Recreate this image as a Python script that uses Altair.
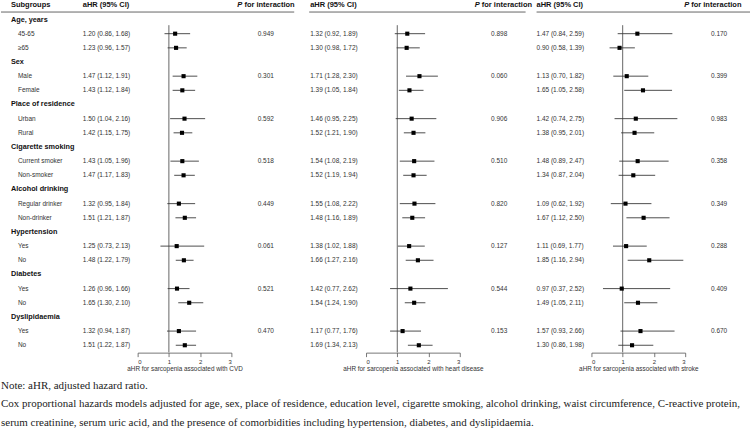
import altair as alt
import pandas as pd

# Subgroup structure
groups = ["Age, years", "Sex", "Place of residence", "Cigarette smoking",
          "Alcohol drinking", "Hypertension", "Diabetes", "Dyslipidaemia"]
subgroups = [["45-65", "≥65"], ["Male", "Female"], ["Urban", "Rural"],
             ["Current smoker", "Non-smoker"], ["Regular drinker", "Non-drinker"],
             ["Yes", "No"], ["Yes", "No"], ["Yes", "No"]]

# CVD
cvd_hr = [1.20, 1.23, 1.47, 1.43, 1.50, 1.42, 1.43, 1.47, 1.32, 1.51, 1.25, 1.48, 1.26, 1.65, 1.32, 1.51]
cvd_lo = [0.86, 0.96, 1.12, 1.12, 1.04, 1.15, 1.05, 1.17, 0.95, 1.21, 0.73, 1.22, 0.96, 1.30, 0.94, 1.22]
cvd_hi = [1.68, 1.57, 1.91, 1.84, 2.16, 1.75, 1.96, 1.83, 1.84, 1.87, 2.13, 1.79, 1.66, 2.10, 1.87, 1.87]
cvd_p = ["0.949", "0.301", "0.592", "0.518", "0.449", "0.061", "0.521", "0.470"]

# Heart disease
heart_hr = [1.32, 1.30, 1.71, 1.39, 1.46, 1.52, 1.54, 1.52, 1.55, 1.48, 1.38, 1.66, 1.42, 1.54, 1.17, 1.69]
heart_lo = [0.92, 0.98, 1.28, 1.05, 0.95, 1.21, 1.08, 1.19, 1.08, 1.16, 1.02, 1.27, 0.77, 1.24, 0.77, 1.34]
heart_hi = [1.89, 1.72, 2.30, 1.84, 2.25, 1.90, 2.19, 1.94, 2.22, 1.89, 1.88, 2.16, 2.62, 1.90, 1.76, 2.13]
heart_p = ["0.898", "0.060", "0.906", "0.510", "0.820", "0.127", "0.544", "0.153"]

# Stroke
stroke_hr = [1.47, 0.90, 1.13, 1.65, 1.42, 1.38, 1.48, 1.34, 1.09, 1.67, 1.11, 1.85, 0.97, 1.49, 1.57, 1.30]
stroke_lo = [0.84, 0.58, 0.70, 1.05, 0.74, 0.95, 0.89, 0.87, 0.62, 1.12, 0.69, 1.16, 0.37, 1.05, 0.93, 0.86]
stroke_hi = [2.59, 1.39, 1.82, 2.58, 2.75, 2.01, 2.47, 2.04, 1.92, 2.50, 1.77, 2.94, 2.52, 2.11, 2.66, 1.98]
stroke_p = ["0.170", "0.399", "0.983", "0.358", "0.349", "0.288", "0.409", "0.670"]

axis_ticks = [0, 1, 2, 3]

note_lines = [
    "Note: aHR, adjusted hazard ratio.",
    "Cox proportional hazards models adjusted for age, sex, place of residence, education level, "
    "cigarette smoking, alcohol drinking, waist circumference, C-reactive protein,",
    "serum creatinine, serum uric acid, and the presence of comorbidities including hypertension, "
    "diabetes, and dyslipidaemia.",
]
note_y = [385, 404, 423]

SANS = "Liberation Sans"
SERIF = "Liberation Serif"
ROW_STEP = 14.2
TOP_ROW = 18.0
N_ROWS = 24
PLOT_H = 352

yscale = alt.Scale(domain=[0, N_ROWS - 1], range=[TOP_ROW, TOP_ROW + (N_ROWS - 1) * ROW_STEP])


def Y(field="row"):
    return alt.Y(f"{field}:Q", scale=yscale, axis=None)


def items_frame(hr, lo, hi, p):
    recs = []
    k = 0
    for g, subs in enumerate(subgroups):
        for j, s in enumerate(subs):
            recs.append({
                "row": 3 * g + 1 + j,
                "hr": hr[k], "lo": lo[k], "hi": hi[k],
                "ci": f"{hr[k]:.2f} ({lo[k]:.2f}, {hi[k]:.2f})",
                "p": p[g] if j == 0 else "",
                "sub": s,
            })
            k += 1
    return pd.DataFrame(recs)


def panel(df, width, ci_x, rng, p_center, p_head_x, line_x, title, with_labels=False):
    xscale = alt.Scale(domain=[0, 3], range=rng)
    xaxis = alt.Axis(values=axis_ticks, title=title, grid=False, format="d",
                     domainColor="#555", tickColor="#555", tickSize=4, domainWidth=0.8, tickWidth=0.8,
                     labelFont=SANS, labelFontSize=6, labelColor="#333", labelPadding=1.5,
                     titleFont=SANS, titleFontSize=6.4, titleFontWeight="normal", titleColor="#333",
                     titlePadding=1.5)
    base = alt.Chart(df)
    layers = []

    hdr = alt.Chart(pd.DataFrame({"row": [-1]}))
    layers.append(hdr.mark_text(text="aHR (95% CI)", align="left", font=SANS, fontSize=7.5,
                                fontWeight="bold", color="#111")
                  .encode(x=alt.value(ci_x), y=Y()))
    layers.append(hdr.mark_text(text="P", align="left", font=SANS, fontSize=7.5,
                                fontWeight="bold", fontStyle="italic", color="#111")
                  .encode(x=alt.value(p_head_x), y=Y()))
    layers.append(hdr.mark_text(text="for interaction", align="left", font=SANS, fontSize=7.5,
                                fontWeight="bold", color="#111")
                  .encode(x=alt.value(p_head_x + 7.1), y=Y()))
    layers.append(hdr.mark_rule(color="#666", strokeWidth=1)
                  .encode(x=alt.value(line_x[0]), x2=alt.value(line_x[1]), y=alt.value(10.5)))

    if with_labels:
        layers.append(hdr.mark_text(text="Subgroups", align="left", font=SANS, fontSize=7.5,
                                    fontWeight="bold", color="#111")
                      .encode(x=alt.value(10), y=Y()))
        gdf = pd.DataFrame({"row": [3 * g for g in range(len(groups))], "name": groups})
        layers.append(alt.Chart(gdf).mark_text(align="left", font=SANS, fontSize=7.3,
                                               fontWeight="bold", color="#111")
                      .encode(x=alt.value(10), y=Y(), text="name:N"))
        layers.append(base.mark_text(align="left", font=SANS, fontSize=6.5, color="#333")
                      .encode(x=alt.value(17), y=Y(), text="sub:N"))
        # footnote lines below the three panels
        for line, ny in zip(note_lines, note_y):
            layers.append(hdr.mark_text(text=line, align="left", font=SERIF, fontSize=11, color="#222")
                          .encode(x=alt.value(0), y=alt.value(ny)))

    layers.append(base.mark_text(align="left", font=SANS, fontSize=6.5, color="#333")
                  .encode(x=alt.value(ci_x), y=Y(), text="ci:N"))
    layers.append(base.mark_text(align="center", font=SANS, fontSize=6.5, color="#333")
                  .encode(x=alt.value(p_center), y=Y(), text="p:N"))

    ref = alt.Chart(pd.DataFrame({"v": [1], "r0": [0.4], "r1": [23.5]}))
    layers.append(ref.mark_rule(color="#555", strokeWidth=0.9)
                  .encode(x=alt.X("v:Q", scale=xscale, axis=xaxis),
                          y=Y("r0"), y2="r1:Q"))
    layers.append(base.mark_rule(color="#3a3a3a", strokeWidth=0.9)
                  .encode(x=alt.X("lo:Q", scale=xscale, axis=xaxis), x2="hi:Q", y=Y()))
    layers.append(base.mark_square(color="#000", size=17, opacity=1)
                  .encode(x=alt.X("hr:Q", scale=xscale, axis=xaxis), y=Y()))

    return alt.layer(*layers).properties(width=width, height=PLOT_H)


p1 = panel(items_frame(cvd_hr, cvd_lo, cvd_hi, cvd_p), 302, 82, [137, 231], 265.5, 237, (0, 294),
           "aHR for sarcopenia associated with CVD", with_labels=True)
p2 = panel(items_frame(heart_hr, heart_lo, heart_hi, heart_p), 228, 8, [64, 158], 197.5, 173, (7, 224),
           "aHR for sarcopenia associated with heart disease")
p3 = panel(items_frame(stroke_hr, stroke_lo, stroke_hi, stroke_p), 221, 7, [62, 156], 190, 155, (7, 221),
           "aHR for sarcopenia associated with stroke")

chart = alt.hconcat(p1, p2, p3, spacing=0, bounds="flush", padding=0).configure_view(stroke=None)

chart.save("out.html", embed_options={"renderer": "svg", "actions": False})
